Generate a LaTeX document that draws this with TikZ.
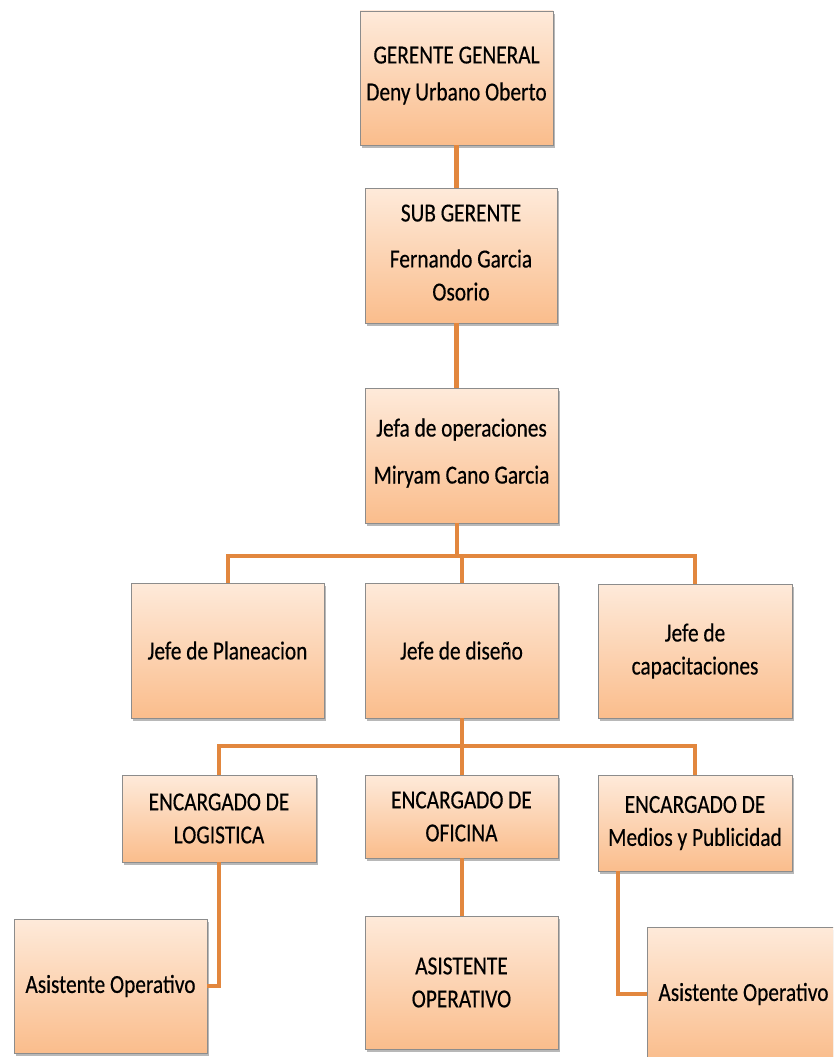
\documentclass[tikz,border=0pt]{standalone}
\usepackage{fontspec}
\setmainfont{Carlito}[FakeStretch=0.82,FakeBold=0.4]
\usetikzlibrary{shadows}
\definecolor{peachtop}{RGB}{254,234,218}
\definecolor{peachbot}{RGB}{250,189,140}
\definecolor{boxedge}{RGB}{140,140,140}
\definecolor{linkor}{RGB}{226,135,62}
\newcommand{\lowpad}[1]{\rule[-#1]{0pt}{#1}}
\tikzset{
  orgbox/.style={rectangle, draw=boxedge, line width=0.9pt, top color=peachtop, bottom color=peachbot,
    align=center, inner sep=2pt, font=\fontsize{26}{33}\selectfont, text=black,
    drop shadow={shadow xshift=1.5pt, shadow yshift=-3pt, opacity=0.28, fill=black}},
  link/.style={draw=linkor, line width=4pt},
  linkthick/.style={draw=linkor, line width=5pt}
}
\begin{document}
\begin{tikzpicture}[x=1pt,y=-1pt]
\clip (0,0) rectangle (833,1057);
\fill[white] (0,0) rectangle (833,1057);
% boxes
\node[orgbox, minimum width=193pt, minimum height=134pt] (g) at (456.5,78) {GERENTE GENERAL\\[4pt]Deny Urbano Oberto\lowpad{9pt}};
\node[orgbox, minimum width=192pt, minimum height=135pt] (s) at (461,255.5) {SUB GERENTE\\[13pt]Fernando Garcia\\Osorio\lowpad{6pt}};
\node[orgbox, minimum width=193pt, minimum height=135pt] (j) at (461.5,455.5) {Jefa de operaciones\\[14pt]Miryam Cano Garcia\lowpad{9pt}};
\node[orgbox, minimum width=193pt, minimum height=135pt] (jp) at (227.5,650.5) {Jefe de Planeacion};
\node[orgbox, minimum width=193pt, minimum height=135pt] (jd) at (461.5,650.5) {Jefe de diseño};
\node[orgbox, minimum width=194pt, minimum height=134pt] (jc) at (695,651) {Jefe de\\capacitaciones};
\node[orgbox, minimum width=194pt, minimum height=87pt] (el) at (219,818.5) {ENCARGADO DE\\LOGISTICA};
\node[orgbox, minimum width=193pt, minimum height=83pt] (eo) at (461.5,816.5) {ENCARGADO DE\\OFICINA};
\node[orgbox, minimum width=194pt, minimum height=96pt] (em) at (695,823) {ENCARGADO DE\\Medios y Publicidad};
\node[orgbox, minimum width=193pt, minimum height=134pt] (a1) at (110.5,986) {Asistente Operativo};
\node[orgbox, minimum width=193pt, minimum height=133pt] (a2) at (461.5,982.5) {ASISTENTE\\OPERATIVO};
\node[orgbox, minimum width=193pt, minimum height=134pt] (a3) at (743.5,994) {Asistente Operativo};
% bus coordinates
\coordinate (b1) at (457,555.5);
\coordinate (b2) at (461,746);
\coordinate (m3) at (618,871);
% connectors
\draw[linkthick] (g.south) -- (g.south |- s.north);
\draw[linkthick] (g.south |- s.south) -- (g.south |- j.north);
\draw[link] (j.south -| b1) -- (b1);
\draw[link] (jp.north) |- (b1);
\draw[link] (jc.north) |- (b1);
\draw[link] (jd.north) -- (jd.north |- b1);
\draw[link] (jd.south) -- (jd.south |- b2);
\draw[link] (el.north) |- (b2);
\draw[link] (em.north) |- (b2);
\draw[link] (eo.north) -- (eo.north |- b2);
\draw[link] (el.south) |- (a1.east);
\draw[link] (eo.south) -- (a2.north);
\draw[link] (m3) |- (a3.west);
\end{tikzpicture}
\end{document}
